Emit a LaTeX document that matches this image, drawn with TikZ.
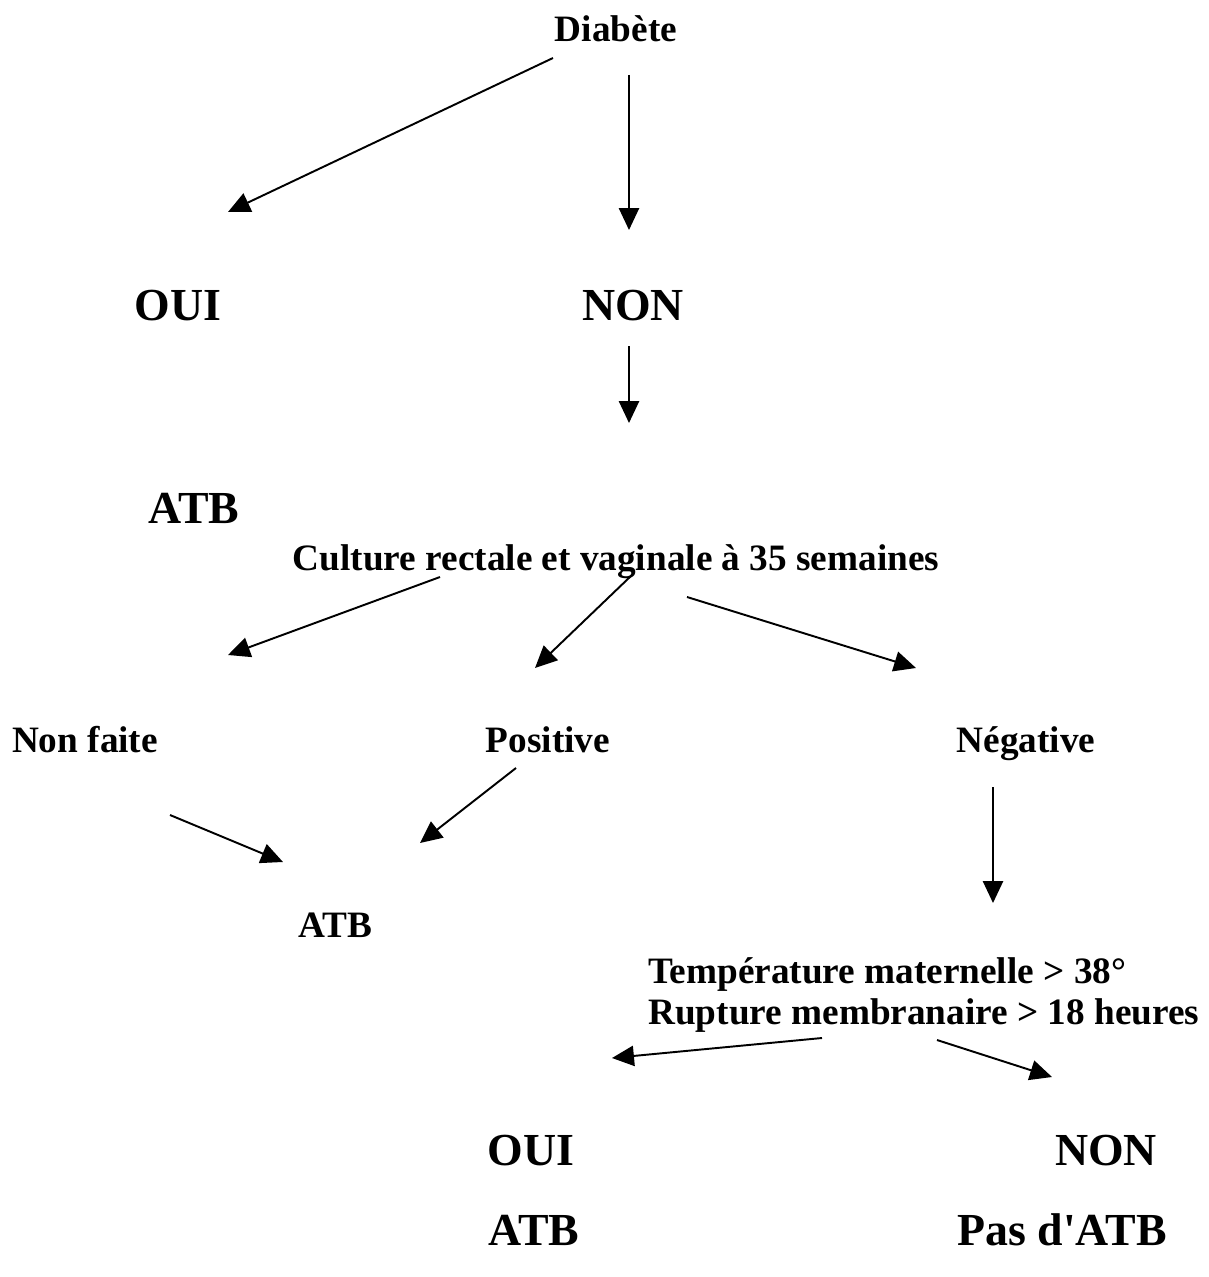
\documentclass[tikz,border=0pt]{standalone}
\usepackage{fontspec}
\setmainfont{Liberation Serif}
\usetikzlibrary{arrows.meta}
\newcommand{\apostrophe}{\XeTeXglyph\XeTeXcharglyph"0027\relax}

\begin{document}
\begin{tikzpicture}[x=0.02cm,y=-0.02cm,
   petit/.style={anchor=base,inner sep=0pt,font=\bfseries\fontsize{21.2}{24}\selectfont},
   grand/.style={anchor=base,inner sep=0pt,font=\bfseries\fontsize{26.1}{30}\selectfont},
   fleche/.style={line width=1.1pt,-{Triangle[length=12.5pt,width=11.5pt]}}]
  \useasboundingbox[fill=white] (0,0) rectangle (1208,1277);
  % premier niveau
  \node[petit] (diabete) at (616,42) {Diabète};
  \node[grand] (oui1) at (178,320) {OUI};
  \node[grand] (non1) at (633,320) {NON};
  \node[grand] (atb1) at (194,523) {ATB};
  \coordinate (d-oui) at (553,58);   \coordinate (oui-t) at (228,212);
  \coordinate (d-non) at (629,75);   \coordinate (non-t) at (629,230);
  \draw[fleche] (d-oui) -- (oui-t);
  \draw[fleche] (d-non) -- (non-t);
  \coordinate (n-cul) at (629,346);  \coordinate (cul-t) at (629,423);
  \draw[fleche] (n-cul) -- (cul-t);
  % culture
  \node[petit] (culture) at (616,570) {Culture rectale et vaginale à 35 semaines};
  \node[petit] (nonfaite) at (85,752) {Non faite};
  \node[petit] (positive) at (548,752) {Positive};
  \node[petit] (negative) at (1026,752) {Négative};
  \coordinate (c-nf) at (440,577);   \coordinate (nf-t) at (228,655);
  \coordinate (c-pos) at (632,575);  \coordinate (pos-t) at (535,668);
  \coordinate (c-neg) at (687,597);  \coordinate (neg-t) at (916,668);
  \draw[fleche] (c-nf) -- (nf-t);
  \draw[fleche] (c-pos) -- (pos-t);
  \draw[fleche] (c-neg) -- (neg-t);
  % vers ATB
  \node[petit] (atb2) at (335,937) {ATB};
  \coordinate (nf-a) at (170,815);   \coordinate (a-nf) at (283,862);
  \coordinate (pos-a) at (516,768);  \coordinate (a-pos) at (420,843);
  \draw[fleche] (nf-a) -- (a-nf);
  \draw[fleche] (pos-a) -- (a-pos);
  % negative
  \coordinate (neg-b) at (993,787);  \coordinate (temp-t) at (993,903);
  \draw[fleche] (neg-b) -- (temp-t);
  \node[petit,anchor=base west] (temp) at (648,983) {Température maternelle > 38°};
  \node[petit,anchor=base west] (rupture) at (648,1024) {Rupture membranaire > 18 heures};
  \coordinate (r-oui) at (822,1038); \coordinate (oui-b) at (612,1058);
  \coordinate (r-non) at (937,1040); \coordinate (non-b) at (1052,1077);
  \draw[fleche] (r-oui) -- (oui-b);
  \draw[fleche] (r-non) -- (non-b);
  % fin
  \node[grand] (oui2) at (531,1165) {OUI};
  \node[grand] (non2) at (1106,1165) {NON};
  \node[grand] (atb3) at (534,1245) {ATB};
  \node[grand] (pasatb) at (1062,1245) {Pas d\apostrophe ATB};
\end{tikzpicture}
\end{document}
